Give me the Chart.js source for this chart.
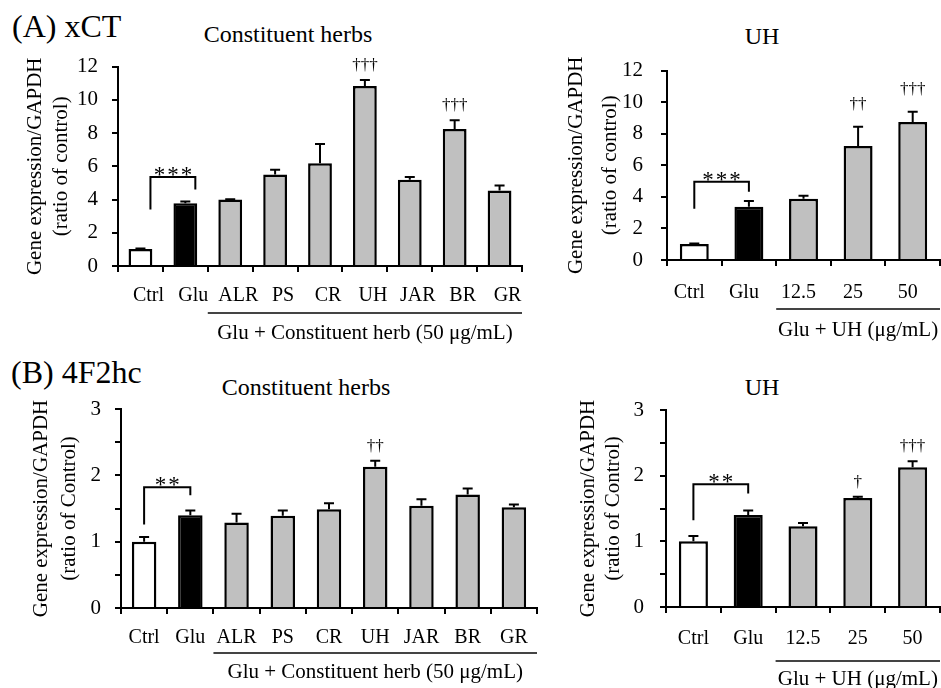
<!DOCTYPE html>
<html>
<head>
<meta charset="utf-8">
<script src="https://cdn.jsdelivr.net/npm/chart.js@4.4.0/dist/chart.umd.min.js"></script>
<style>
    body {
        margin: 0;
        width: 941px;
        height: 688px;
        background: #fff;
        position: relative;
        overflow: hidden;
        font-family: 'Liberation Serif', 'Times New Roman', serif;
    }
    .panel { position: absolute; }
    .label {
        position: absolute;
        color: #000;
        line-height: 1;
        white-space: nowrap;
    }
    .center { transform: translateX(-50%); }
</style>
</head>
<body>

<div class="label" style="left:12px; top:10px; font-size:32px;">(A) xCT</div>
<div class="label center" style="left:288px; top:22px; font-size:24px;">Constituent herbs</div>
<div class="label center" style="left:762px; top:24px; font-size:24px;">UH</div>

<div class="label" style="left:11px; top:356px; font-size:32px;">(B) 4F2hc</div>
<div class="label center" style="left:306px; top:375px; font-size:24px;">Constituent herbs</div>
<div class="label center" style="left:762px; top:375px; font-size:24px;">UH</div>

<canvas class="panel" id="xct-herb" width="540" height="312" style="left:0; top:40px;"></canvas>
<canvas class="panel" id="xct-uh" width="391" height="312" style="left:550px; top:40px;"></canvas>
<canvas class="panel" id="f2hc-herb" width="560" height="308" style="left:0; top:380px;"></canvas>
<canvas class="panel" id="f2hc-uh" width="391" height="308" style="left:550px; top:380px;"></canvas>

<script>
const FONT = "'Liberation Serif', 'Times New Roman', serif";

// Kategoriler
const herbCategories = ['Ctrl', 'Glu', 'ALR', 'PS', 'CR', 'UH', 'JAR', 'BR', 'GR'];
const uhCategories = ['Ctrl', 'Glu', '12.5', '25', '50'];

// (A) xCT - bileşen bitkiler
const xctHerbMean = [1.02, 3.78, 4.0, 5.51, 6.19, 10.83, 5.19, 8.24, 4.55];
const xctHerbErr = [0.03, 0.1, 0.02, 0.28, 1.15, 0.37, 0.17, 0.53, 0.3];
const xctHerbSig = ['', '', '', '', '', '†††', '', '†††', ''];

// (A) xCT - UH dozları
const xctUhMean = [1.02, 3.38, 3.88, 7.22, 8.74];
const xctUhErr = [0.03, 0.36, 0.19, 1.23, 0.66];
const xctUhSig = ['', '', '', '††', '†††'];

// (B) 4F2hc - bileşen bitkiler
const f2hcHerbMean = [1.0, 1.40, 1.29, 1.39, 1.49, 2.13, 1.54, 1.71, 1.52];
const f2hcHerbErr = [0.07, 0.07, 0.13, 0.08, 0.09, 0.09, 0.1, 0.09, 0.04];
const f2hcHerbSig = ['', '', '', '', '', '††', '', '', ''];

// (B) 4F2hc - UH dozları
const f2hcUhMean = [1.0, 1.40, 1.23, 1.66, 2.13];
const f2hcUhErr = [0.08, 0.07, 0.05, 0.02, 0.09];
const f2hcUhSig = ['', '', '', '†', '†††'];

// Ctrl-Glu köşeli parantezleri: [üst, sol alt, sağ alt]
const xctHerbBracket = [5.35, 3.4, 4.6];
const xctUhBracket = [4.96, 3.25, 4.33];
const f2hcHerbBracket = [1.82, 1.26, 1.70];
const f2hcUhBracket = [1.87, 1.32, 1.73];

// Eksen ayarları
const xctMax = 12;
const xctStep = 2;
const f2hcMax = 3;
const f2hcStep = 0.5;

const herbGroupLabel = 'Glu + Constituent herb (50 μg/mL)';
const uhGroupLabel = 'Glu + UH (μg/mL)';

/**
 * Hata çubukları, anlamlılık işaretleri, parantez ve grup etiketi
 */
const annotationPlugin = {
    id: 'annotations',
    afterDatasetsDraw(chart, args, opts) {
        const ctx = chart.ctx;
        const meta = chart.getDatasetMeta(0);
        const yScale = chart.scales.y;
        const area = chart.chartArea;

        ctx.save();
        ctx.strokeStyle = '#000';
        ctx.fillStyle = '#000';
        ctx.lineWidth = 2;

        // Hata çubukları ve † işaretleri
        opts.err.forEach((e, i) => {
            const v = opts.mean[i];
            const px = meta.data[i].x;
            const y0 = yScale.getPixelForValue(v);
            const y1 = yScale.getPixelForValue(v + e);
            ctx.beginPath();
            ctx.moveTo(px, y0);
            ctx.lineTo(px, y1);
            ctx.moveTo(px - 5, y1);
            ctx.lineTo(px + 5, y1);
            ctx.stroke();

            if (opts.sig[i]) {
                ctx.font = `17px ${FONT}`;
                ctx.textAlign = 'center';
                ctx.textBaseline = 'alphabetic';
                ctx.fillText(opts.sig[i], px, y1 - opts.sigGap);
            }
        });

        // Ctrl - Glu parantezi
        const b = opts.bracket;
        const xL = meta.data[0].x + opts.bracketShift;
        const xR = meta.data[1].x + opts.bracketShift;
        const yT = yScale.getPixelForValue(b[0]);
        ctx.lineWidth = 2;
        ctx.beginPath();
        ctx.moveTo(xL, yScale.getPixelForValue(b[1]));
        ctx.lineTo(xL, yT);
        ctx.lineTo(xR, yT);
        ctx.lineTo(xR, yScale.getPixelForValue(b[2]));
        ctx.stroke();
        ctx.font = `23px ${FONT}`;
        ctx.letterSpacing = '2px';
        ctx.textAlign = 'center';
        ctx.textBaseline = 'alphabetic';
        ctx.fillText(opts.stars, (xL + xR) / 2 + 1, yT + 5);
        ctx.letterSpacing = '0px';

        // Grup çizgisi ve etiketi
        const catW = (area.right - area.left) / opts.mean.length;
        const gx0 = area.left + catW * 2;
        const gx1 = area.right;
        const gy = area.bottom + opts.groupLineGap;
        ctx.strokeStyle = '#444';
        ctx.lineWidth = 2;
        ctx.beginPath();
        ctx.moveTo(gx0, gy);
        ctx.lineTo(gx1, gy);
        ctx.stroke();
        ctx.font = `21px ${FONT}`;
        ctx.textBaseline = 'middle';
        ctx.fillText(opts.groupLabel, (gx0 + gx1) / 2, area.bottom + opts.groupTextGap);

        ctx.restore();
    }
};

/**
 * Bir panel grafiği oluşturur
 */
function createPanel(id, labels, mean, err, sig, bracket, axis, style) {
    const canvas = document.getElementById(id);
    const colors = labels.map((l, i) => i === 0 ? '#ffffff' : (i === 1 ? '#000000' : '#c0c0c0'));

    return new Chart(canvas, {
        type: 'bar',
        data: {
            labels: labels,
            datasets: [{
                data: mean,
                backgroundColor: colors,
                borderColor: '#000',
                borderWidth: 2.5,
                borderSkipped: 'start',
                barPercentage: 0.53,
                categoryPercentage: 1.0
            }]
        },
        options: {
            responsive: false,
            animation: false,
            layout: {
                padding: style.padding
            },
            plugins: {
                legend: { display: false },
                tooltip: { enabled: false },
                annotations: {
                    mean: mean,
                    err: err,
                    sig: sig,
                    sigGap: style.sigGap,
                    bracket: bracket,
                    bracketShift: style.bracketShift,
                    stars: axis.stars,
                    groupLabel: axis.groupLabel,
                    groupLineGap: style.groupLineGap,
                    groupTextGap: style.groupTextGap
                }
            },
            scales: {
                x: {
                    grid: {
                        display: true,
                        drawOnChartArea: false,
                        drawTicks: true,
                        tickLength: 6,
                        color: '#000',
                        lineWidth: 2,
                        offset: true
                    },
                    border: { display: true, color: '#000', width: 2 },
                    ticks: {
                        color: '#000',
                        font: { family: FONT, size: 20 },
                        padding: style.xTickPad,
                        labelOffset: style.labelShift,
                        maxRotation: 0,
                        autoSkip: false
                    },
                    afterFit: (scale) => { scale.height = style.xHeight; }
                },
                y: {
                    min: 0,
                    max: axis.max,
                    grid: {
                        display: true,
                        drawOnChartArea: false,
                        drawTicks: true,
                        tickLength: 6,
                        color: '#000',
                        lineWidth: 2
                    },
                    border: { display: true, color: '#000', width: 2 },
                    ticks: {
                        stepSize: axis.step,
                        color: '#000',
                        font: { family: FONT, size: 21 },
                        padding: style.yTickPad,
                        callback: (v) => Number.isInteger(v) ? v : ''
                    },
                    title: {
                        display: true,
                        text: ['Gene expression/GAPDH', axis.ratioLabel],
                        color: '#000',
                        font: { family: FONT, size: 21, lineHeight: style.titleLH },
                        padding: 0
                    },
                    afterFit: (scale) => { scale.width = style.yWidth; }
                }
            }
        },
        plugins: [annotationPlugin]
    });
}

document.addEventListener('DOMContentLoaded', () => {
    if (typeof Chart === 'undefined') {
        console.error('Chart.js yüklenemedi!');
        return;
    }

    const xctAxis = { max: xctMax, step: xctStep, ratioLabel: '(ratio of control)', stars: '***' };
    const f2hcAxis = { max: f2hcMax, step: f2hcStep, ratioLabel: '(ratio of Control)', stars: '**' };

    createPanel('xct-herb', herbCategories, xctHerbMean, xctHerbErr, xctHerbSig, xctHerbBracket,
        Object.assign({ groupLabel: herbGroupLabel }, xctAxis),
        { padding: { left: 22, top: 23, right: 18, bottom: 12 }, yWidth: 96, xHeight: 74,
          titleLH: 1.25, yTickPad: 14, xTickPad: 12, labelShift: 8, sigGap: 10, bracketShift: 10,
          groupLineGap: 47, groupTextGap: 67 });

    createPanel('xct-uh', uhCategories, xctUhMean, xctUhErr, xctUhSig, xctUhBracket,
        Object.assign({ groupLabel: uhGroupLabel }, xctAxis),
        { padding: { left: 9, top: 17, right: 1, bottom: 12 }, yWidth: 108, xHeight: 80,
          titleLH: 1.65, yTickPad: 18, xTickPad: 15, labelShift: -5, sigGap: 18, bracketShift: 0,
          groupLineGap: 49, groupTextGap: 70 });

    createPanel('f2hc-herb', herbCategories, f2hcHerbMean, f2hcHerbErr, f2hcHerbSig, f2hcHerbBracket,
        Object.assign({ groupLabel: herbGroupLabel }, f2hcAxis),
        { padding: { left: 28, top: 29, right: 23, bottom: 0 }, yWidth: 93, xHeight: 80,
          titleLH: 1.33, yTickPad: 14, xTickPad: 12, labelShift: 0, sigGap: 10, bracketShift: 0,
          groupLineGap: 45, groupTextGap: 64 });

    createPanel('f2hc-uh', uhCategories, f2hcUhMean, f2hcUhErr, f2hcUhSig, f2hcUhBracket,
        Object.assign({ groupLabel: uhGroupLabel }, f2hcAxis),
        { padding: { left: 26, top: 30, right: 1, bottom: 0 }, yWidth: 90, xHeight: 81,
          titleLH: 1.2, yTickPad: 16, xTickPad: 14, labelShift: 0, sigGap: 10, bracketShift: 0,
          groupLineGap: 54, groupTextGap: 72 });
});
</script>
</body>
</html>
